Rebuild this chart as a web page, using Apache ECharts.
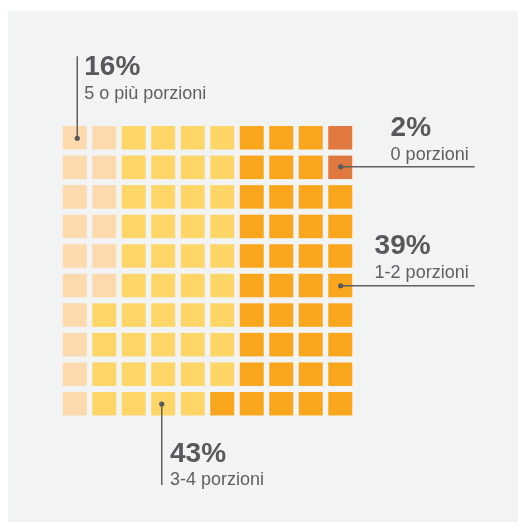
<!DOCTYPE html>
<html>
<head>
<meta charset="utf-8">
<script src="https://cdn.jsdelivr.net/npm/echarts@6/dist/echarts.min.js"></script>
<style>
html,body{margin:0;padding:0;background:#ffffff;}
#chart{width:518px;height:522px;}
</style>
</head>
<body>
<div id="chart"></div>
<script>
// ---- data ----
const categories = ['5 o più porzioni', '3-4 porzioni', '1-2 porzioni', '0 porzioni'];
const counts = [16, 43, 39, 2];
const percentLabels = ['16%', '43%', '39%', '2%'];
const columns = ['1','2','3','4','5','6','7','8','9','10'];
const rows = ['1','2','3','4','5','6','7','8','9','10'];

// ---- styles ----
const colors = ['#FDD9AE', '#FED567', '#F9A61C', '#E07840'];
const textColor = '#58595B';

// cell order: column-major, top to bottom; the smallest group sits at top of last column
const order = [];
for (let c = 0; c < columns.length; c++) {
  for (let r = 0; r < rows.length; r++) order.push([c, r]);
}
const lastColCells = order.splice(order.length - rows.length, rows.length);
const nLast = counts[counts.length - 1];
order.push(...lastColCells.slice(nLast), ...lastColCells.slice(0, nLast));

const seriesData = categories.map(() => []);
let k = 0;
counts.forEach((n, ci) => {
  for (let i = 0; i < n; i++) { seriesData[ci].push(order[k]); k++; }
});

const chart = echarts.init(document.getElementById('chart'), null, {renderer: 'canvas'});

const option = {
  backgroundColor: '#ffffff',
  animation: false,
  textStyle: {fontFamily: '"Liberation Sans", Arial, sans-serif'},
  grid: {left: 60, top: 123, width: 295, height: 295.5},
  xAxis: {type: 'category', data: columns, show: false},
  yAxis: {type: 'category', data: rows, inverse: true, show: false},
  series: categories.map((name, ci) => ({
    name: name,
    type: 'scatter',
    symbol: 'rect',
    symbolSize: [24, 23.5],
    itemStyle: {color: colors[ci], opacity: 1},
    emphasis: {disabled: true},
    data: seriesData[ci]
  }))
};
chart.setOption(option);

// ---- annotations ----
const annotations = [
  {cat: 0, cell: [0, 0], dot: [2.5, 0.5], line: [0, -82], align: 'left', text: [7, -85]},
  {cat: 3, cell: [9, 1], dot: [0.4, -0.6], line: [134, 0], align: 'right', text: [128, -52.5]},
  {cat: 2, cell: [9, 5], dot: [0.4, 0.2], line: [134, 0], align: 'right', text: [128, -53]},
  {cat: 1, cell: [3, 9], dot: [-1.5, 0.3], line: [0, 81], align: 'left', text: [8.3, 36]}
];

const FONT = '"Liberation Sans", Arial, sans-serif';
const rich = {
  b: {fontSize: 28, fontWeight: 'bold', lineHeight: 28, fill: textColor, align: 'left', fontFamily: FONT},
  s: {fontSize: 18, lineHeight: 25, fill: '#5E5F61', align: 'left', fontFamily: FONT}
};

const elements = [{
  type: 'rect', z: -10, silent: true,
  shape: {x: 8, y: 11, width: 520, height: 520},
  style: {fill: '#F2F3F3'}
}];

annotations.forEach(a => {
  const p = chart.convertToPixel({seriesIndex: 0}, a.cell);
  const dx = p[0] + a.dot[0], dy = p[1] + a.dot[1];
  elements.push({
    type: 'line', z: 100, silent: true,
    shape: {x1: dx, y1: dy, x2: dx + a.line[0], y2: dy + a.line[1]},
    style: {stroke: '#606163', lineWidth: 1.5}
  });
  elements.push({
    type: 'circle', z: 101, silent: true,
    shape: {cx: dx, cy: dy, r: 2.6},
    style: {fill: '#58595B'}
  });
  elements.push({
    type: 'text', z: 102, silent: true,
    x: dx + a.text[0], y: dy + a.text[1],
    style: {
      text: '{b|' + percentLabels[a.cat] + '}\n{s|' + categories[a.cat] + '}',
      rich: rich,
      fill: textColor,
      align: a.align,
      verticalAlign: 'top'
    }
  });
});

chart.setOption({graphic: {elements: elements}});
</script>
</body>
</html>
